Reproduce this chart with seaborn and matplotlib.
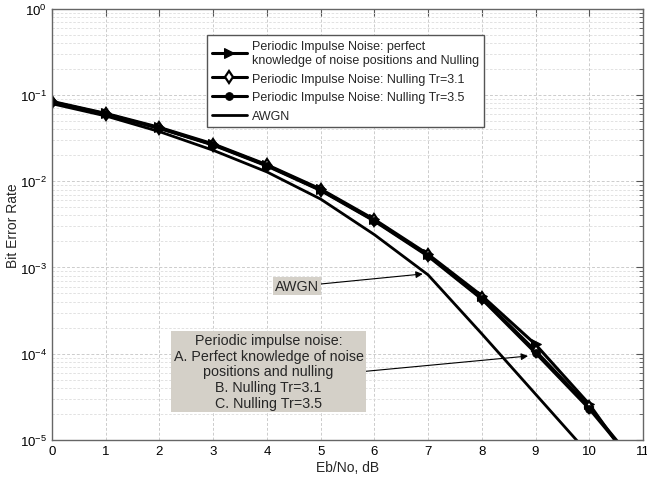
import numpy as np
import pandas as pd
import matplotlib
matplotlib.use("Agg")
import matplotlib.pyplot as plt
import seaborn as sns
from matplotlib.ticker import LogLocator, NullFormatter

#Data
ebno = [0, 1, 2, 3, 4, 5, 6, 7, 8, 9, 10, 11]
ber_perfect = [0.084, 0.061, 0.042, 0.027, 0.0155, 0.0081, 0.0036, 0.00142, 0.00047, 0.000128, 0.000026, 0.0000035]
ber_tr31 = [0.083, 0.060, 0.041, 0.0265, 0.0152, 0.0079, 0.0035, 0.00138, 0.00044, 0.000108, 0.000024, 0.0000042]
ber_tr35 = [0.082, 0.060, 0.041, 0.0262, 0.015, 0.0078, 0.00345, 0.00135, 0.00043, 0.000102, 0.000023, 0.0000041]
ber_awgn = [0.079, 0.057, 0.0375, 0.0228, 0.0128, 0.0062, 0.0024, 0.00082, 0.00017, 0.000034, 0.0000068, 0.0000013]

labels = ["Periodic Impulse Noise: perfect\nknowledge of noise positions and Nulling",
          "Periodic Impulse Noise: Nulling Tr=3.1",
          "Periodic Impulse Noise: Nulling Tr=3.5",
          "AWGN"]

sns.set_style("white")
plt.rcParams['font.family'] = ['Liberation Sans', 'DejaVu Sans']
plt.rcParams['font.size'] = 9

fig = plt.figure(figsize=(6.47, 4.81), dpi=100)
ax = fig.add_axes([0.0804, 0.0832, 0.9134, 0.8968])

sns.lineplot(x=ebno, y=ber_perfect, ax=ax, color='k', lw=2.2, marker='>', markersize=7,
             markeredgecolor='k', label=labels[0])
sns.lineplot(x=ebno, y=ber_tr31, ax=ax, color='k', lw=2.2, marker='d', markersize=6,
             markeredgecolor='k', markerfacecolor='white', markeredgewidth=1.6, label=labels[1])
sns.lineplot(x=ebno, y=ber_tr35, ax=ax, color='k', lw=2.2, marker='o', markersize=5.5,
             markeredgecolor='k', label=labels[2])
sns.lineplot(x=ebno, y=ber_awgn, ax=ax, color='k', lw=2.0, label=labels[3])

ax.set_yscale('log')
ax.set_xlim(0, 11)
ax.set_ylim(1e-5, 1)
ax.set_xticks(range(0, 12))
ax.yaxis.set_major_locator(LogLocator(base=10, numticks=10))
ax.yaxis.set_minor_locator(LogLocator(base=10, subs=np.arange(2, 10), numticks=10))
ax.yaxis.set_minor_formatter(NullFormatter())
ax.tick_params(which='both', direction='in', top=True, right=True, colors='#555555',
               labelcolor='k', labelsize=9.5)
ax.tick_params(which='major', length=5)
ax.tick_params(which='minor', length=3)
ax.grid(True, which='major', ls=(0, (3, 2)), color='#cccccc', lw=0.7)
ax.grid(True, which='minor', axis='y', ls=(0, (3, 2)), color='#dddddd', lw=0.6)
for s in ax.spines.values():
    s.set_color('#666666')
    s.set_linewidth(1.0)

ax.set_xlabel("Eb/No, dB", fontsize=10, labelpad=2)
ax.set_ylabel("Bit Error Rate", fontsize=10)
ax.yaxis.set_label_coords(-0.055, 0.5)

leg = ax.legend(loc='upper left', bbox_to_anchor=(0.262, 0.939), borderaxespad=0,
                fancybox=False, edgecolor='#555555', framealpha=1, fontsize=9,
                handlelength=2.8, labelspacing=0.55, handletextpad=0.4, borderpad=0.4)
leg.get_frame().set_linewidth(1.0)

box = dict(boxstyle='square,pad=0.15', fc='#d4d0c8', ec='none')
ax.annotate("AWGN", xy=(6.9, 8.4e-4), xytext=(4.15, 6.04e-4), fontsize=10.3,
            ha='left', va='center', bbox=box,
            arrowprops=dict(arrowstyle='-|>', color='k', lw=0.8, mutation_scale=10,
                            shrinkA=0, shrinkB=0))
ax.annotate("Periodic impulse noise:\nA. Perfect knowledge of noise\npositions and nulling\nB. Nulling Tr=3.1\nC. Nulling Tr=3.5",
            xy=(8.86, 9.4e-5), xytext=(4.03, 6.22e-5), fontsize=10.3,
            ha='center', va='center', multialignment='center', linespacing=1.15,
            bbox=dict(boxstyle='square,pad=0.15', fc='#d4d0c8', ec='none'),
            arrowprops=dict(arrowstyle='-|>', color='k', lw=0.8, mutation_scale=10,
                            shrinkA=0, shrinkB=0, relpos=(1.0, 0.5)))

fig.savefig("out.png", dpi=100)
